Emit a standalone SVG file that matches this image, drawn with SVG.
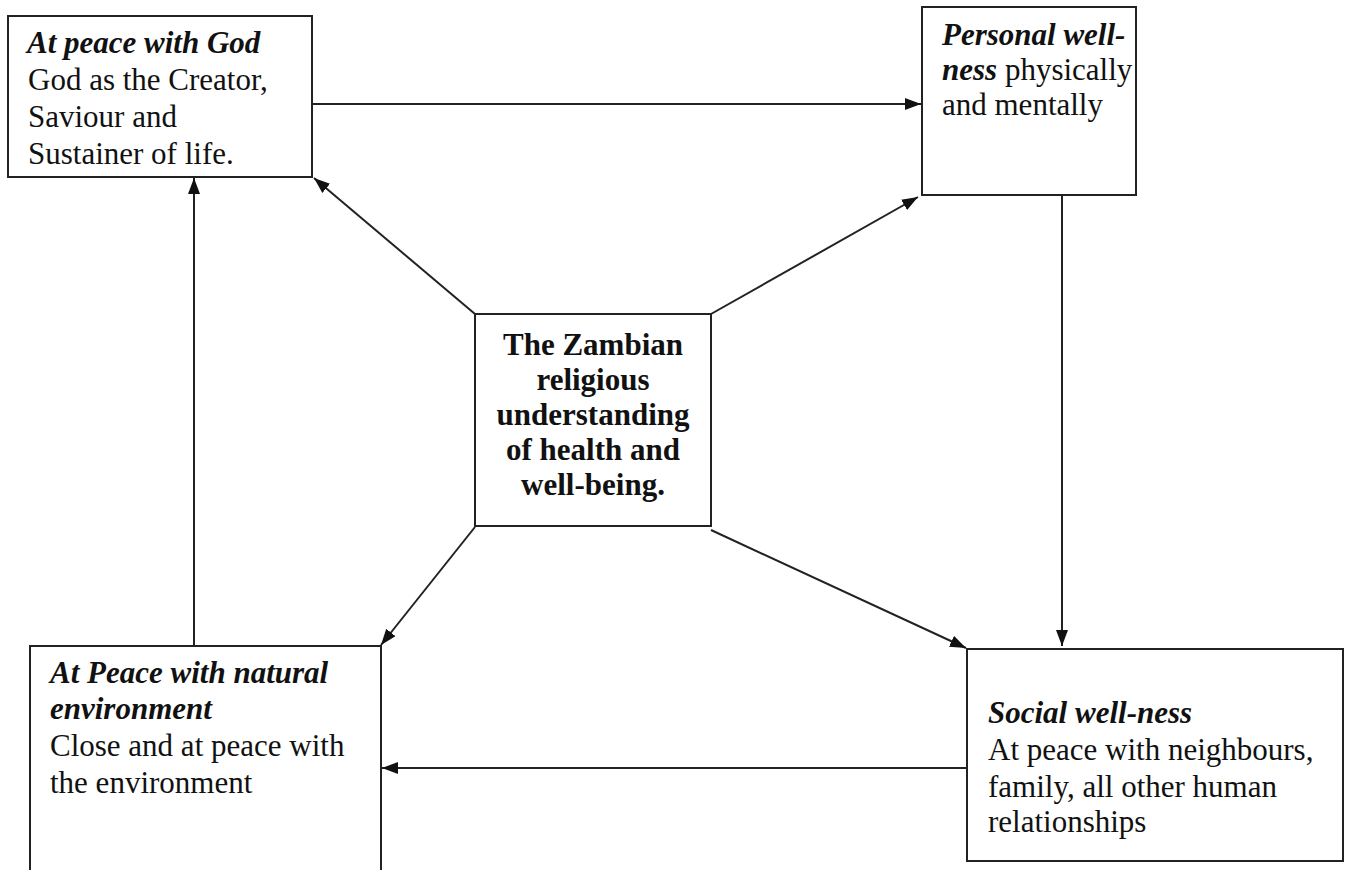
<svg xmlns="http://www.w3.org/2000/svg" width="1345" height="870" viewBox="0 0 1345 870">
<style>
.box{fill:#fff;stroke:#222;stroke-width:2}
text{font-family:"Liberation Serif","Times New Roman",serif;font-size:31px;fill:#111}
.bi{font-weight:bold;font-style:italic}
.b{font-weight:bold}
.c{text-anchor:middle}
.conn line{stroke:#222;stroke-width:2;marker-end:url(#ah)}
</style>
<defs>
<marker id="ah" viewBox="0 0 16 12" refX="16" refY="6" markerWidth="16" markerHeight="12" markerUnits="userSpaceOnUse" orient="auto">
<path d="M0,0 L16,6 L0,12 Z" fill="#111"/>
</marker>
</defs>
<rect width="1345" height="870" fill="#fff"/>
<g class="conn">
<line x1="312" y1="104" x2="921" y2="104"/>
<line x1="475" y1="314" x2="314" y2="178"/>
<line x1="711" y1="314" x2="918" y2="197"/>
<line x1="1062" y1="195" x2="1062" y2="646"/>
<line x1="711" y1="530" x2="966" y2="648"/>
<line x1="475" y1="527" x2="381" y2="645"/>
<line x1="967" y1="768" x2="382" y2="768"/>
<line x1="194" y1="646" x2="194" y2="178"/>
</g>
<g id="god">
<rect class="box" x="8" y="16" width="304" height="161"/>
<text x="27" y="53" class="bi">At peace with God</text>
<text x="28" y="90">God as the Creator,</text>
<text x="28" y="127">Saviour and</text>
<text x="28" y="164">Sustainer of life.</text>
</g>
<g id="personal">
<rect class="box" x="922" y="7" width="214" height="188"/>
<text x="942" y="45" class="bi">Personal well-</text>
<text x="942" y="80"><tspan class="bi">ness</tspan> physically</text>
<text x="942" y="115">and mentally</text>
</g>
<g id="center">
<rect class="box" x="475" y="314" width="236" height="212"/>
<text x="593" y="355" class="b c">The Zambian</text>
<text x="593" y="390" class="b c">religious</text>
<text x="593" y="425" class="b c">understanding</text>
<text x="593" y="460" class="b c">of health and</text>
<text x="593" y="495" class="b c">well-being.</text>
</g>
<g id="nature">
<rect class="box" x="30" y="646" width="351" height="240"/>
<text x="50" y="683" class="bi">At Peace with natural</text>
<text x="50" y="719" class="bi">environment</text>
<text x="50" y="756">Close and at peace with</text>
<text x="50" y="793">the environment</text>
</g>
<g id="social">
<rect class="box" x="967" y="649" width="376" height="212"/>
<text x="988" y="723" class="bi">Social well-ness</text>
<text x="988" y="760">At peace with neighbours,</text>
<text x="988" y="797">family, all other human</text>
<text x="988" y="832">relationships</text>
</g>
</svg>
